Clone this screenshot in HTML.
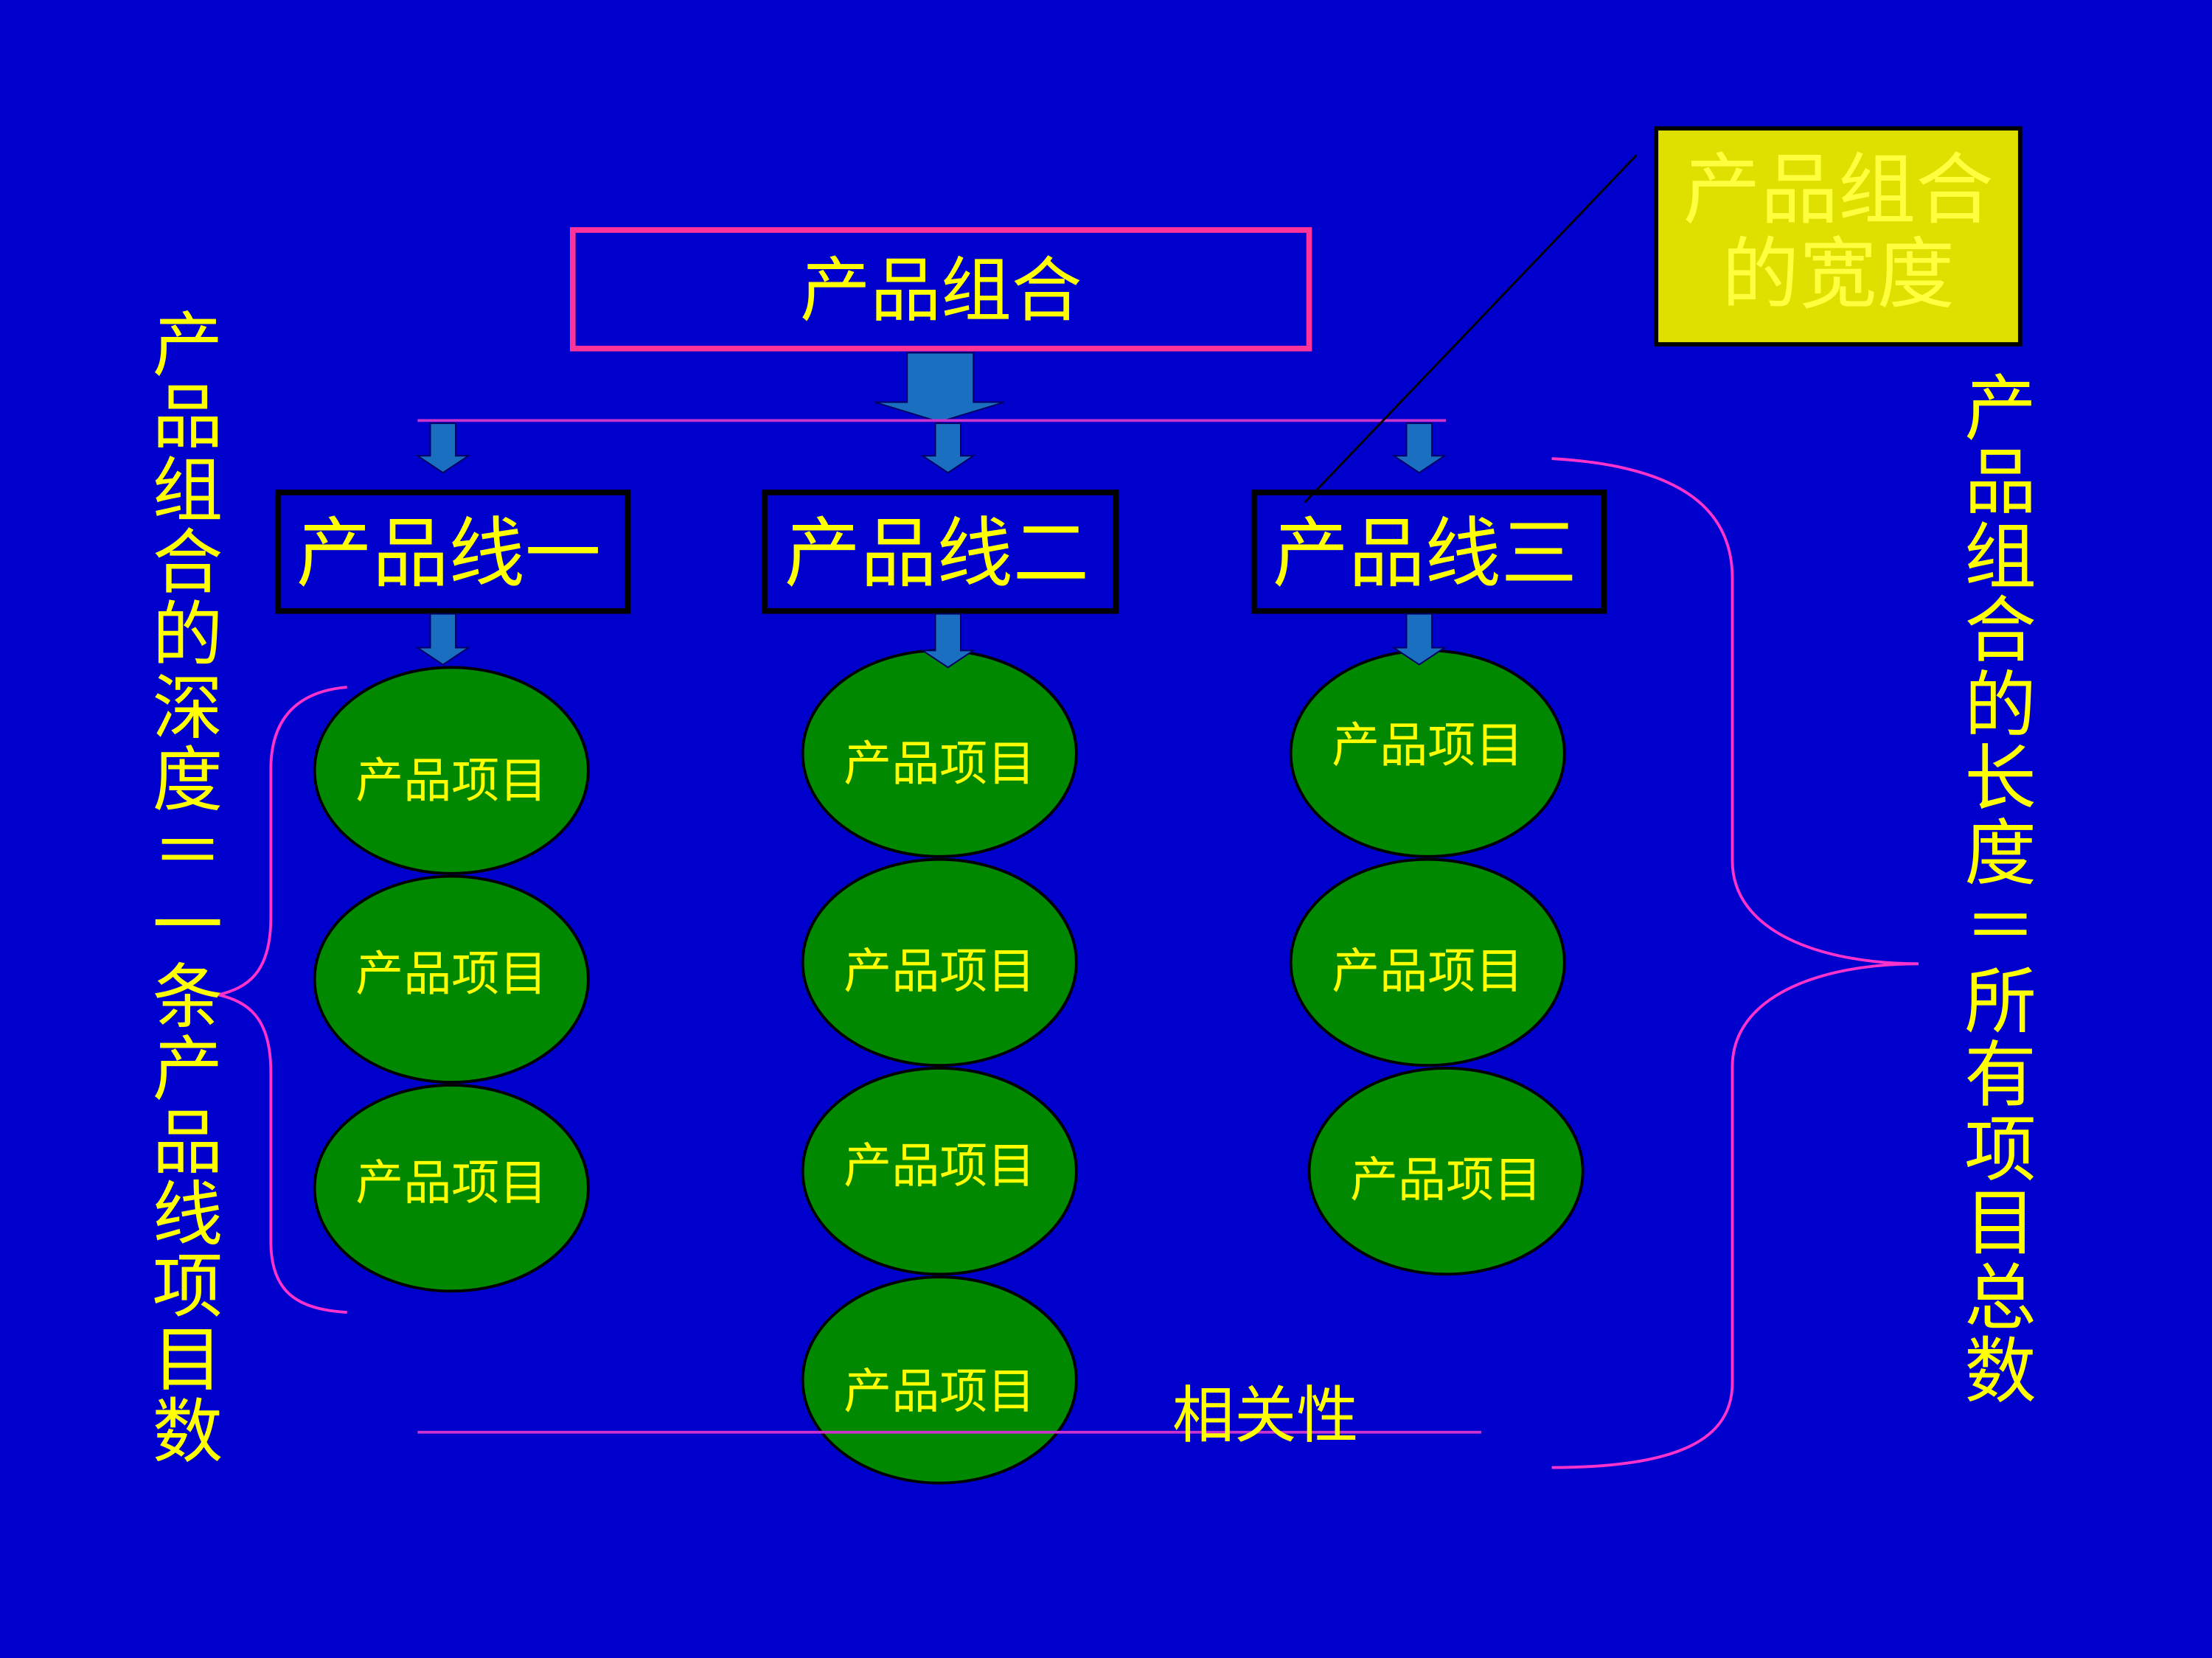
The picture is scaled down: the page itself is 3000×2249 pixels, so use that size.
<!DOCTYPE html>
<html><head><meta charset="utf-8"><style>
html,body{margin:0;padding:0;background:#0000cc;}
svg{display:block;}
text{font-family:"Liberation Sans","Noto Sans CJK SC","WenQuanYi Zen Hei",sans-serif;fill:#ffff00;text-anchor:middle;dominant-baseline:central;}
</style></head><body>
<svg width="3000" height="2249" viewBox="0 0 1568 1175" preserveAspectRatio="none" xmlns="http://www.w3.org/2000/svg">
<rect x="0" y="0" width="1568" height="1175" fill="#0000cc"/>
<rect x="406" y="163" width="522" height="84" fill="#0000cc" stroke="#ff3399" stroke-width="4"/>
<text x="667" y="206" font-size="50">产品组合</text>
<polygon points="643,250 690,250 690,285 712,285 666,299 620,285 643,285" fill="#1a6fc0" stroke="#000060" stroke-width="1"/>
<line x1="296" y1="298" x2="1025" y2="298" stroke="#cc33cc" stroke-width="2"/>
<g fill="#1a6fc0" stroke="#000060" stroke-width="1">
<polygon points="305,300 323,300 323,323 332,323 314,335 296,323 305,323"/>
<polygon points="663,300 681,300 681,323 690,323 672,335 654,323 663,323"/>
<polygon points="997,300 1015,300 1015,323 1024,323 1006,335 988,323 997,323"/>
</g>
<g fill="#0000cc" stroke="#000" stroke-width="4">
<rect x="197" y="349" width="248" height="84"/>
<rect x="542" y="349" width="249" height="84"/>
<rect x="889" y="349" width="248" height="84"/>
</g>
<text x="318" y="392" font-size="54">产品线一</text>
<text x="664" y="392" font-size="54">产品线二</text>
<text x="1010" y="392" font-size="54">产品线三</text>
<g fill="#008800" stroke="#000" stroke-width="2">
<ellipse cx="320" cy="546" rx="97" ry="73"/>
<ellipse cx="320" cy="694" rx="97" ry="73"/>
<ellipse cx="320" cy="842" rx="97" ry="73"/>
<ellipse cx="666" cy="534" rx="97" ry="73"/>
<ellipse cx="666" cy="682" rx="97" ry="73"/>
<ellipse cx="666" cy="830" rx="97" ry="73"/>
<ellipse cx="666" cy="978" rx="97" ry="73"/>
<ellipse cx="1012" cy="534" rx="97" ry="73"/>
<ellipse cx="1012" cy="682" rx="97" ry="73"/>
<ellipse cx="1025" cy="830" rx="97" ry="73"/>
</g>
<g fill="#1a6fc0" stroke="#000060" stroke-width="1">
<polygon points="305,435 323,435 323,459 332,459 314,471 296,459 305,459"/>
<polygon points="663,435 681,435 681,461 690,461 672,473 654,461 663,461"/>
<polygon points="997,435 1015,435 1015,459 1024,459 1006,471 988,459 997,459"/>
</g>
<g font-size="34">
<text x="320" y="553">产品项目</text>
<text x="320" y="690">产品项目</text>
<text x="320" y="838">产品项目</text>
<text x="666" y="541">产品项目</text>
<text x="666" y="688">产品项目</text>
<text x="666" y="826">产品项目</text>
<text x="666" y="986">产品项目</text>
<text x="1012" y="528">产品项目</text>
<text x="1012" y="688">产品项目</text>
<text x="1025" y="836">产品项目</text>
</g>
<path d="M246,487 C210,490 192,510 192,545 L192,650 C192,690 175,700 155,705 C175,710 192,720 192,760 L192,880 C192,915 210,928 246,930" fill="none" stroke="#ff33cc" stroke-width="2"/>
<path d="M1100,325 C1190,330 1228,360 1228,410 L1228,610 C1228,660 1290,683 1360,683 C1290,683 1228,706 1228,756 L1228,980 C1228,1020 1190,1040 1100,1040" fill="none" stroke="#ff33cc" stroke-width="2"/>
<line x1="296" y1="1015" x2="1050" y2="1015" stroke="#cc33cc" stroke-width="2"/>
<text x="897" y="1003" font-size="44">相关性</text>
<rect x="1174" y="91" width="258" height="153" fill="#e0e000" stroke="#000" stroke-width="3"/>
<text x="1303" y="135" font-size="55" style="fill:#ffff40">产品组合</text>
<text x="1303" y="195" font-size="55" style="fill:#ffff40">的宽度</text>
<line x1="1160" y1="110" x2="925" y2="356" stroke="#000" stroke-width="1.5"/>
<g font-size="50">
<text x="133" y="245">产</text><text x="133" y="296">品</text><text x="133" y="348">组</text>
<text x="133" y="399">合</text><text x="133" y="450">的</text><text x="133" y="502">深</text>
<text x="133" y="553">度</text><text x="133" y="604">＝</text><text x="133" y="656">一</text>
<text x="133" y="707">条</text><text x="133" y="758">产</text><text x="133" y="810">品</text>
<text x="133" y="861">线</text><text x="133" y="912">项</text><text x="133" y="964">目</text>
<text x="133" y="1015">数</text>
</g>
<g font-size="51">
<text x="1418" y="290">产</text><text x="1418" y="342">品</text><text x="1418" y="395">组</text>
<text x="1418" y="447">合</text><text x="1418" y="500">的</text><text x="1418" y="552">长</text>
<text x="1418" y="605">度</text><text x="1418" y="657">＝</text><text x="1418" y="710">所</text>
<text x="1418" y="762">有</text><text x="1418" y="815">项</text><text x="1418" y="867">目</text>
<text x="1418" y="920">总</text><text x="1418" y="972">数</text>
</g>
</svg>
</body></html>
